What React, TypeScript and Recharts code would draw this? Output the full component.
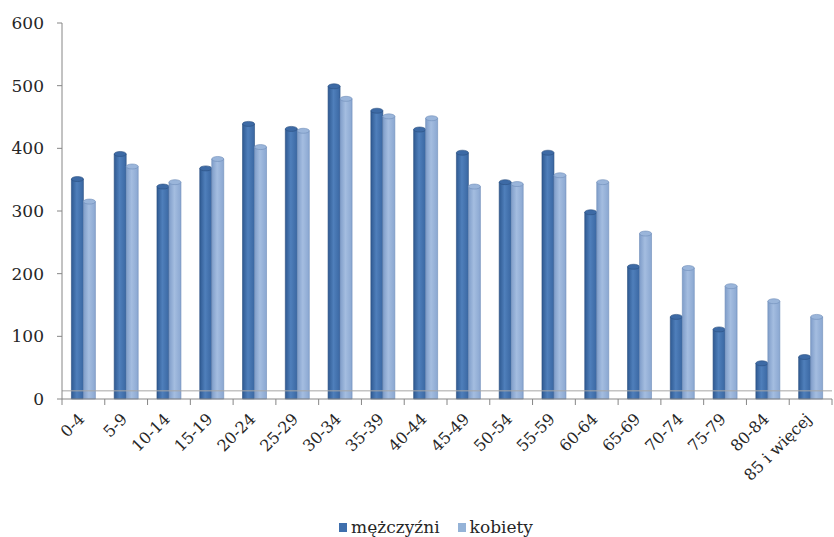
import React from 'react';
import { BarChart, Bar, XAxis, YAxis, Legend, ReferenceLine } from 'recharts';

document.body.style.margin = '0';

const ageGroups = [
    '0-4', '5-9', '10-14', '15-19', '20-24', '25-29', '30-34', '35-39', '40-44',
    '45-49', '50-54', '55-59', '60-64', '65-69', '70-74', '75-79', '80-84', '85 i więcej',
];
const men = [355, 395, 343, 372, 443, 435, 503, 464, 434, 397, 350, 397, 302, 215, 135, 115, 61, 71];
const women = [319, 375, 350, 387, 406, 432, 483, 455, 452, 343, 347, 361, 350, 268, 213, 184, 160, 135];
const yTicks = [0, 100, 200, 300, 400, 500, 600];

const seriesNames = ['mężczyźni', 'kobiety'];
const seriesColors = ['#3f6fad', '#95b3d7'];

const data = ageGroups.map((group, i) => ({ group, men: men[i], women: women[i] }));

const FONT = '"DejaVu Serif", serif';
const AXIS = '#868686';
const TEXT = '#262626';

const Cylinder = (props: any) => {
    const { x, y, width, height, gradId, cap, edge } = props;
    if (!height || height <= 0) return null;
    const ry = Math.min(2.5, height / 2);
    return (
        <g>
            <path
                d={`M${x},${y + ry} L${x},${y + height} L${x + width},${y + height} L${x + width},${y + ry}`}
                fill={`url(#${gradId})`}
                stroke={edge}
                strokeWidth={0.6}
            />
            <ellipse cx={x + width / 2} cy={y + ry} rx={width / 2} ry={ry} fill={cap} stroke={edge} strokeWidth={0.6} />
        </g>
    );
};

// label + tick marks on the category boundaries (Excel style)
const AgeTick = ({ x, y, payload, index, width, visibleTicksCount }: any) => {
    const half = payload.offset > 0 ? payload.offset : width / (visibleTicksCount || ageGroups.length) / 2;
    const ax = x + 2;
    const ay = y + 21;
    const isLast = index === ageGroups.length - 1;
    return (
        <g>
            <line x1={x - half} y1={y} x2={x - half} y2={y + 6} stroke={AXIS} />
            {isLast && <line x1={x + half} y1={y} x2={x + half} y2={y + 6} stroke={AXIS} />}
            <text
                x={ax}
                y={ay}
                transform={`rotate(-45, ${ax}, ${ay})`}
                textAnchor="end"
                fontFamily={FONT}
                fontSize={16}
                fill={TEXT}
            >
                {payload.value}
            </text>
        </g>
    );
};

const LegendContent = () => (
    <div style={{ display: 'flex', justifyContent: 'center', gap: 18, fontFamily: FONT, fontSize: 17, color: TEXT, paddingLeft: 40 }}>
        {seriesNames.map((name, i) => (
            <span key={name} style={{ display: 'flex', alignItems: 'center', gap: 4 }}>
                <span style={{ width: 8, height: 9, background: seriesColors[i], display: 'inline-block' }} />
                {name}
            </span>
        ))}
    </div>
);

const App = () => (
    <div style={{ position: 'relative' }}>
        <svg width={0} height={0} style={{ position: 'absolute' }}>
            <defs>
                <linearGradient id="gMen" x1="0" y1="0" x2="1" y2="0">
                    <stop offset="0%" stopColor="#2f5a92" />
                    <stop offset="45%" stopColor="#4f7fbb" />
                    <stop offset="100%" stopColor="#3a67a2" />
                </linearGradient>
                <linearGradient id="gWomen" x1="0" y1="0" x2="1" y2="0">
                    <stop offset="0%" stopColor="#7f9dc9" />
                    <stop offset="45%" stopColor="#a4bde0" />
                    <stop offset="100%" stopColor="#8aa7d1" />
                </linearGradient>
            </defs>
        </svg>
        <BarChart
            width={834}
            height={537}
            data={data}
            margin={{ top: 23, right: 2, left: 0, bottom: 0 }}
            barCategoryGap="22%"
            barGap={0}
        >
            <XAxis
                dataKey="group"
                interval={0}
                stroke={AXIS}
                tickLine={false}
                tickSize={0}
                tickMargin={0}
                height={118}
                tick={<AgeTick />}
            />
            <YAxis
                domain={[0, 600]}
                ticks={yTicks}
                width={62}
                tickSize={5}
                tickMargin={13}
                stroke={AXIS}
                tick={{ fill: TEXT, fontFamily: FONT, fontSize: 17 }}
            />
            <ReferenceLine y={13} stroke="#a6a6a6" strokeWidth={1} />
            <Legend content={<LegendContent />} />
            <Bar
                dataKey="men"
                name={seriesNames[0]}
                fill={seriesColors[0]}
                isAnimationActive={false}
                shape={(p: any) => <Cylinder {...p} gradId="gMen" cap="#3d6aa5" edge="#2a4f80" />}
            />
            <Bar
                dataKey="women"
                name={seriesNames[1]}
                fill={seriesColors[1]}
                isAnimationActive={false}
                shape={(p: any) => <Cylinder {...p} gradId="gWomen" cap="#9ab5da" edge="#6f8db8" />}
            />
        </BarChart>
    </div>
);

export default App;
